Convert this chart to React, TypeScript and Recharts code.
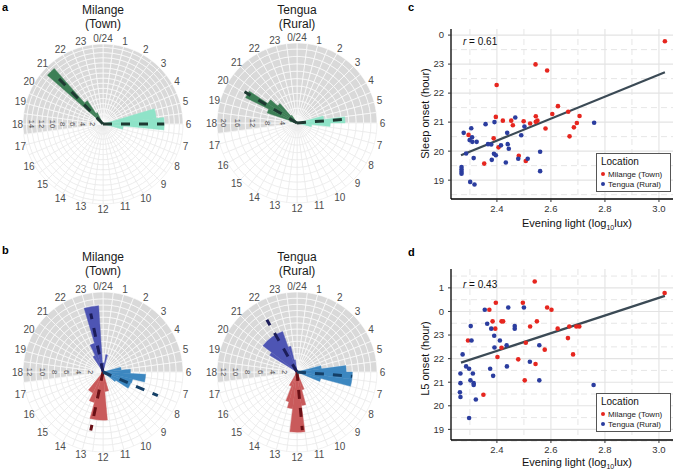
import React from 'react';
import { PieChart, Pie, Cell, ScatterChart, Scatter, XAxis, YAxis, CartesianGrid, ReferenceLine } from 'recharts';

const FONT = '"Liberation Sans", Arial, Helvetica, sans-serif';

// ---------- Rose (circular histogram) data: [startHour, endHour, count] ----------
const hourLabels = ['0/24', '1', '2', '3', '4', '5', '6', '7', '8', '9', '10', '11', '12', '13', '14', '15', '16', '17', '18', '19', '20', '21', '22', '23'];

const aMilangeOnset = [[20.3, 20.75, 1.5], [20.75, 21.25, 14.5], [21.25, 21.75, 5.5], [21.75, 22.25, 2.5]];
const aMilangeOffset = [[4.9, 5.6, 10.5], [5.6, 6.37, 12], [6.37, 7.0, 4]];
const aTenguaOnset = [[18.75, 19.25, 2], [19.25, 19.75, 8.5], [19.75, 20.25, 15.5], [20.25, 20.75, 9.5], [20.75, 21.25, 7], [21.25, 21.75, 2.5]];
const aTenguaOffset = [[5.0, 5.5, 7.3], [5.5, 6.0, 13], [6.0, 6.4, 9], [6.4, 7.0, 4]];

const bMilangeL5 = [[21.8, 22.3, 3], [22.3, 22.9, 4.9], [22.9, 23.75, 10.9], [23.75, 24.6, 1.5], [24.6, 25.0, 2.9]];
const bMilangeM10 = [[10.9, 11.65, 3.2], [11.65, 13.05, 7.9], [13.05, 13.7, 5.2], [13.7, 14.6, 3.8]];
const bMilangeWake = [[5.0, 5.6, 3.0], [5.6, 6.2, 4.5], [6.2, 6.9, 7.0], [6.9, 7.4, 5.0], [7.4, 8.2, 4.9], [8.2, 8.6, 2.5]];
const bTenguaL5 = [[20.1, 20.5, 5.2], [20.5, 22.7, 7.0], [22.7, 23.1, 4.3], [23.1, 23.5, 2]];
const bTenguaM10 = [[10.5, 11.0, 3], [11.0, 11.5, 5.5], [11.5, 12.45, 9.8], [12.45, 13.0, 6], [13.0, 13.4, 5], [13.4, 14.0, 2.5]];
const bTenguaWake = [[5.0, 5.5, 4], [5.5, 6.0, 8], [6.0, 6.5, 9], [6.5, 7.0, 9], [7.0, 7.5, 4]];

// mean directions: [hour, length]
const aMilangeMeans = [[21.05, 12.5], [6.0, 12.0]];
const aTenguaMeans = [[20.05, 16.5], [5.7, 14]];
const bMilangeMeans = [[23.21, 9.8], [12.79, 9.8], [7.56, 9.8]];
const bTenguaMeans = [[22.0, 9.8], [11.65, 9.5], [6.3, 9.0]];

const aMilangeTicks = [2, 4, 6, 8, 10, 12, 14];
const aTenguaTicks = [4, 8, 12, 16, 20];
const bTicks = [2, 4, 6, 8, 10, 12];

// ---------- Scatter data ----------
const sleepMilange = [[3.022, 23.79], [2.543, 22.99], [2.586, 22.78], [2.399, 22.28], [2.626, 21.55], [2.605, 21.28], [2.664, 21.36], [2.706, 21.21], [2.396, 21.18], [2.422, 21.05], [2.453, 21.05], [2.459, 20.89], [2.499, 21.03], [2.544, 21.2], [2.55, 21.05], [2.544, 21.01], [2.523, 20.95], [2.696, 20.97], [2.685, 20.82], [2.58, 20.78], [2.669, 20.51], [2.295, 20.56], [2.388, 20.44], [2.406, 20.13], [2.481, 19.84], [2.507, 19.66], [2.353, 19.57]];
const sleepTengua = [[2.277, 20.63], [2.305, 20.79], [2.358, 20.93], [2.391, 21.0], [2.468, 21.16], [2.502, 20.85], [2.438, 20.63], [2.49, 20.55], [2.308, 20.48], [2.299, 20.38], [2.309, 20.32], [2.325, 20.32], [2.367, 20.24], [2.379, 20.23], [2.415, 20.2], [2.44, 20.24], [2.444, 20.08], [2.389, 19.91], [2.396, 19.86], [2.286, 19.92], [2.314, 19.76], [2.381, 19.7], [2.433, 19.61], [2.479, 19.74], [2.514, 19.74], [2.56, 19.98], [2.76, 20.98], [2.269, 19.45], [2.269, 19.37], [2.269, 19.29], [2.269, 19.22], [2.56, 19.31], [2.301, 18.94], [2.317, 18.85]];
const l5Milange = [[3.021, 24.78], [2.54, 25.27], [2.396, 24.37], [2.496, 24.37], [2.586, 24.17], [2.602, 24.07], [2.372, 24.07], [2.384, 23.58], [2.417, 23.58], [2.423, 23.58], [2.548, 23.58], [2.394, 23.27], [2.523, 23.36], [2.625, 23.27], [2.668, 23.36], [2.694, 23.36], [2.705, 23.36], [2.293, 22.77], [2.663, 22.87], [2.507, 22.67], [2.417, 22.46], [2.577, 22.38], [2.682, 22.18], [2.402, 22.07], [2.479, 21.97], [2.543, 21.77], [2.503, 21.08], [2.35, 20.47]];
const l5Tengua = [[2.355, 24.07], [2.442, 24.17], [2.5, 24.17], [2.364, 23.48], [2.303, 23.38], [2.379, 23.27], [2.466, 23.38], [2.466, 23.27], [2.39, 22.97], [2.411, 22.77], [2.306, 22.77], [2.436, 22.57], [2.391, 22.47], [2.557, 22.57], [2.273, 22.18], [2.286, 21.67], [2.297, 21.57], [2.437, 21.67], [2.522, 21.87], [2.375, 21.57], [2.265, 21.37], [2.311, 21.37], [2.386, 21.27], [2.302, 21.08], [2.557, 21.08], [2.265, 20.96], [2.314, 20.96], [2.314, 20.88], [2.758, 20.88], [2.263, 20.57], [2.265, 20.37], [2.322, 20.27], [2.297, 19.48]];

const sleepFit = [[2.267, 19.86], [3.022, 22.72]];
const l5Fit = [[2.267, 21.83], [3.022, 24.66]];

const xTicks = [2.4, 2.6, 2.8, 3.0];
const xMinor = [2.3, 2.5, 2.7, 2.9];
const sleepYTicks = [19, 20, 21, 22, 23, 24];
const sleepYMinor = [18.5, 19.5, 20.5, 21.5, 22.5, 23.5];
const l5YTicks = [19, 20, 21, 22, 23, 24, 25];
const l5YMinor = [18.5, 19.5, 20.5, 21.5, 22.5, 23.5, 24.5, 25.5];

// ---------- helpers ----------
const ang = (h: number) => 90 - h * 15;
const RAD = Math.PI / 180;
const halfHourCells = Array.from({ length: 48 }, () => ({ v: 1 }));
const isNight = (k: number) => { const h = k * 0.5; return h >= 17.5 || h < 6; };

interface Series { bins: number[][]; color: string }
interface RoseSpec {
  id: string; cx: number; cy: number; R: number; ppu: number; ringStep: number;
  ticks: number[]; series: Series[]; means: number[][]; meanColors: string[]; dashW: number;
}

function renderRose(s: RoseSpec) {
  const els: any[] = [];
  const maxU = s.R / s.ppu;
  const radii = [0];
  for (let u = s.ringStep; u < maxU - 0.35; u += s.ringStep) radii.push(u * s.ppu);
  radii.push(s.R);
  for (let k = 0; k < radii.length - 1; k++) {
    els.push(
      <Pie key={`${s.id}-ring${k}`} data={halfHourCells} dataKey="v" cx={s.cx} cy={s.cy}
        innerRadius={radii[k]} outerRadius={radii[k + 1]} startAngle={90} endAngle={-270}
        isAnimationActive={false} legendType="none">
        {halfHourCells.map((_, i) => (
          <Cell key={i} fill={isNight(i) ? '#d9d9d9' : '#ffffff'} stroke={isNight(i) ? '#ffffff' : '#e8e8e8'} strokeWidth={0.6} />
        ))}
      </Pie>
    );
  }
  s.series.forEach((ser, si) => {
    ser.bins.forEach(([h0, h1, c], bi) => {
      els.push(
        <Pie key={`${s.id}-s${si}-b${bi}`} data={[{ v: 1 }]} dataKey="v" cx={s.cx} cy={s.cy}
          innerRadius={0} outerRadius={c * s.ppu} startAngle={ang(h0)} endAngle={ang(h1)}
          fill={ser.color} stroke={ser.color} strokeWidth={0.4} isAnimationActive={false} legendType="none" />
      );
    });
  });
  s.means.forEach(([h, len], mi) => {
    const color = s.meanColors[mi];
    els.push(
      <Pie key={`${s.id}-m${mi}`} data={[{ v: 1 }]} dataKey="v" cx={s.cx} cy={s.cy}
        innerRadius={0} outerRadius={len * s.ppu} startAngle={ang(h) + 0.05} endAngle={ang(h) - 0.05}
        fill="none" stroke="none" isAnimationActive={false} legendType="none" labelLine={false}
        label={(p: any) => {
          const a = -p.midAngle * RAD;
          return <line x1={p.cx} y1={p.cy} x2={p.cx + p.outerRadius * Math.cos(a)} y2={p.cy + p.outerRadius * Math.sin(a)}
            stroke={color} strokeWidth={s.dashW} strokeDasharray="9 9" />;
        }} />
    );
  });
  els.push(
    <Pie key={`${s.id}-hours`} data={hourLabels.map((l) => ({ l, v: 1 }))} dataKey="v" cx={s.cx} cy={s.cy}
      innerRadius={s.R - 0.5} outerRadius={s.R} startAngle={97.5} endAngle={-262.5}
      fill="none" stroke="none" isAnimationActive={false} legendType="none" labelLine={false}
      label={(p: any) => {
        const a = -p.midAngle * RAD;
        const r = p.outerRadius + 5.5;
        return <text x={p.cx + r * Math.cos(a)} y={p.cy + r * Math.sin(a)} textAnchor="middle" dominantBaseline="central"
          fontSize={10} fill="#4d4d4d" fontFamily={FONT}>{hourLabels[p.index]}</text>;
      }} />
  );
  els.push(
    <Pie key={`${s.id}-rticks`} data={s.ticks.map((t) => ({ t, v: 1 }))} dataKey="v" cx={s.cx} cy={s.cy}
      innerRadius={0} outerRadius={1} startAngle={180} endAngle={179.9}
      fill="none" stroke="none" isAnimationActive={false} legendType="none" labelLine={false}
      label={(p: any) => {
        const t = p.payload && p.payload.t !== undefined ? p.payload.t : p.t;
        const x = p.cx - t * s.ppu;
        const y = p.cy;
        return <text x={x} y={y} textAnchor="middle" dominantBaseline="central" fontSize={7.5} fill="#4d4d4d"
          fontFamily={FONT} transform={`rotate(90 ${x} ${y})`}>{t}</text>;
      }} />
  );
  return els;
}

const roses: RoseSpec[] = [
  { id: 'am', cx: 103, cy: 124, R: 80, ppu: 5.1, ringStep: 1, ticks: aMilangeTicks,
    series: [{ bins: aMilangeOnset, color: '#3d7f56' }, { bins: aMilangeOffset, color: '#8fe3c8' }],
    means: aMilangeMeans, meanColors: ['#1e3a32', '#1e3a32'], dashW: 3 },
  { id: 'at', cx: 297, cy: 123, R: 80, ppu: 3.7, ringStep: 2, ticks: aTenguaTicks,
    series: [{ bins: aTenguaOnset, color: '#3d7f56' }, { bins: aTenguaOffset, color: '#8fe3c8' }],
    means: aTenguaMeans, meanColors: ['#1e3a32', '#1e3a32'], dashW: 3 },
  { id: 'bm', cx: 103, cy: 372, R: 80, ppu: 6.1, ringStep: 1, ticks: bTicks,
    series: [{ bins: bMilangeL5, color: '#4e55b4' }, { bins: bMilangeM10, color: '#c95a5b' }, { bins: bMilangeWake, color: '#3c87c0' }],
    means: bMilangeMeans, meanColors: ['#1c1d5a', '#6a1016', '#143f66'], dashW: 3 },
  { id: 'bt', cx: 297, cy: 372, R: 80, ppu: 6.15, ringStep: 1, ticks: bTicks,
    series: [{ bins: bTenguaL5, color: '#4e55b4' }, { bins: bTenguaM10, color: '#c95a5b' }, { bins: bTenguaWake, color: '#3c87c0' }],
    means: bTenguaMeans, meanColors: ['#1c1d5a', '#6a1016', '#143f66'], dashW: 3 },
];

const titles = [
  { x: 103, y: 3, a: 'Milange', b: '(Town)' },
  { x: 297, y: 3, a: 'Tengua', b: '(Rural)' },
  { x: 103, y: 250, a: 'Milange', b: '(Town)' },
  { x: 297, y: 250, a: 'Tengua', b: '(Rural)' },
];

const toPts = (arr: number[][]) => arr.map(([x, y]) => ({ x, y }));
const RED = '#e6261f';
const BLUE = '#2b3d9f';
const dot = (color: string) => (p: any) => <circle cx={p.cx} cy={p.cy} r={2.3} fill={color} />;
const axisTick = { fontSize: 9.5, fill: '#333', fontFamily: FONT };

function ScatterPanel(props: { top: number; height: number; mBottom: number; yDomain: number[]; yTicks: number[]; yMinor: number[]; red: number[][]; blue: number[][]; fit: number[][] }) {
  const { top, height, mBottom, yDomain, yTicks, yMinor, red, blue, fit } = props;
  return (
    <div style={{ position: 'absolute', left: 400, top }}>
      <ScatterChart width={275} height={height} margin={{ top: 29, right: 2, bottom: mBottom, left: 21 }}>
        <CartesianGrid horizontalValues={yMinor} verticalValues={xMinor} stroke="#e3e3e3" strokeWidth={0.9} strokeDasharray="6 4" />
        <CartesianGrid horizontalValues={yTicks} verticalValues={xTicks} stroke="#e3e3e3" strokeWidth={1.1} />
        <XAxis type="number" dataKey="x" domain={[2.23, 3.052]} ticks={xTicks} allowDataOverflow height={20}
          tickFormatter={(v: number) => v.toFixed(1)} tick={axisTick} tickSize={3} tickMargin={3}
          axisLine={{ stroke: '#000', strokeWidth: 1.3 }} tickLine={{ stroke: '#333' }} />
        <YAxis type="number" dataKey="y" domain={yDomain} ticks={yTicks} allowDataOverflow width={30}
          tickFormatter={(v: number) => String(Math.round(v) % 24)} tick={axisTick} tickSize={3} tickMargin={4}
          axisLine={{ stroke: '#000', strokeWidth: 1.3 }} tickLine={{ stroke: '#333' }} />
        <ReferenceLine segment={[{ x: fit[0][0], y: fit[0][1] }, { x: fit[1][0], y: fit[1][1] }]} stroke="#3b4a55" strokeWidth={2.2} ifOverflow="visible" />
        <Scatter data={toPts(red)} fill={RED} shape={dot(RED)} isAnimationActive={false} />
        <Scatter data={toPts(blue)} fill={BLUE} shape={dot(BLUE)} isAnimationActive={false} />
      </ScatterChart>
    </div>
  );
}

function LegendBox({ top }: { top: number }) {
  return (
    <div style={{ position: 'absolute', left: 596, top, width: 75, height: 39, border: '1px solid #555', background: '#fff', boxSizing: 'border-box', fontFamily: FONT }}>
      <div style={{ position: 'absolute', left: 4, top: 2, fontSize: 10, color: '#111' }}>Location</div>
      {[{ c: RED, t: 'Milange (Town)' }, { c: BLUE, t: 'Tengua (Rural)' }].map((it, i) => (
        <div key={i} style={{ position: 'absolute', left: 4, top: 16 + i * 10, fontSize: 8, color: '#222', whiteSpace: 'nowrap', lineHeight: '10px' }}>
          <span style={{ display: 'inline-block', width: 4, height: 4, borderRadius: 2, background: it.c, marginRight: 3, verticalAlign: 'middle', position: 'relative', top: -1 }} />
          {it.t}
        </div>
      ))}
    </div>
  );
}

const letter = (t: string, x: number, y: number) => (
  <div style={{ position: 'absolute', left: x, top: y, fontSize: 11, fontWeight: 'bold', fontFamily: FONT, lineHeight: '12px' }}>{t}</div>
);

export default function App() {
  return (
    <div style={{ position: 'absolute', left: 0, top: 0, width: 675, height: 473, background: '#fff', overflow: 'hidden', fontFamily: FONT }}>
      <div style={{ position: 'absolute', left: 0, top: 0 }}>
        <PieChart width={400} height={473} margin={{ top: 0, right: 0, bottom: 0, left: 0 }}>
          {roses.map((r) => renderRose(r))}
        </PieChart>
      </div>
      {titles.map((t, i) => (
        <div key={i} style={{ position: 'absolute', left: t.x - 50, top: t.y, width: 100, textAlign: 'center', fontSize: 12, lineHeight: '14px', color: '#1a1a1a' }}>
          {t.a}<br />{t.b}
        </div>
      ))}
      {letter('a', 2, 1)}
      {letter('b', 2, 244)}
      {letter('c', 408, 1)}
      {letter('d', 408, 246)}

      <ScatterPanel top={0} height={240} mBottom={21} yDomain={[18.35, 24.21]} yTicks={sleepYTicks} yMinor={sleepYMinor} red={sleepMilange} blue={sleepTengua} fit={sleepFit} />
      <ScatterPanel top={240} height={233} mBottom={13} yDomain={[18.55, 25.8]} yTicks={l5YTicks} yMinor={l5YMinor} red={l5Milange} blue={l5Tengua} fit={l5Fit} />

      <div style={{ position: 'absolute', left: 463, top: 36, fontSize: 10, color: '#111' }}><i>r</i> = 0.61</div>
      <div style={{ position: 'absolute', left: 463, top: 279, fontSize: 10, color: '#111' }}><i>r</i> = 0.43</div>

      <LegendBox top={153} />
      <LegendBox top={393} />

      <div style={{ position: 'absolute', left: 517, top: 217, width: 120, textAlign: 'center', fontSize: 11, color: '#111', whiteSpace: 'nowrap' }}>
        Evening light (log<sub style={{ fontSize: 7 }}>10</sub>lux)
      </div>
      <div style={{ position: 'absolute', left: 517, top: 456, width: 120, textAlign: 'center', fontSize: 11, color: '#111', whiteSpace: 'nowrap' }}>
        Evening light (log<sub style={{ fontSize: 7 }}>10</sub>lux)
      </div>
      <div style={{ position: 'absolute', left: 365, top: 107, width: 120, textAlign: 'center', fontSize: 11, color: '#111', whiteSpace: 'nowrap', transform: 'rotate(-90deg)', lineHeight: '13px' }}>
        Sleep onset (hour)
      </div>
      <div style={{ position: 'absolute', left: 365, top: 352, width: 120, textAlign: 'center', fontSize: 11, color: '#111', whiteSpace: 'nowrap', transform: 'rotate(-90deg)', lineHeight: '13px' }}>
        L5 onset (hour)
      </div>
    </div>
  );
}
